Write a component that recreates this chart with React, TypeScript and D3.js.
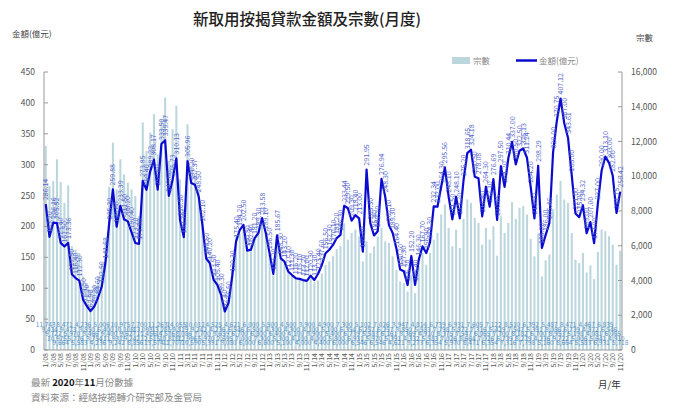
import * as d3 from "d3";

// 金額 (億元), 1/08 - 11/20
const amounts2008 = [236.14, 183.2, 206.16, 205.52, 173.4, 167.5, 173.36, 122.5, 116.4, 112.3, 81.5, 71.2];
const amounts2009 = [62.9, 70.3, 84.6, 102.5, 141.63, 205.3, 259.88, 199.6, 233.39, 211.5, 208.2, 190.4];
const amounts2010 = [173.2, 171.8, 273.85, 259.4, 289.22, 308.17, 259.6, 333.5, 339.47, 249.6, 275.73, 310.13];
const amounts2011 = [210.5, 182.7, 305.96, 270.2, 267.37, 248.5, 202.1, 148.5, 140.2, 113.5, 105.4, 89.3];
const amounts2012 = [62.4, 76.5, 120.3, 175.4, 194.2, 202.5, 160.8, 162.4, 181.2, 189.3, 213.58, 189.1];
const amounts2013 = [156.5, 123.2, 185.67, 148.3, 143.2, 127.1, 121.3, 116.2, 115.1, 113.2, 112.0, 120.3];
const amounts2014 = [113.3, 123.4, 137.6, 156.5, 162.3, 170.1, 181.2, 186.3, 233.44, 229.5, 209.3, 218.4];
const amounts2015 = [213.0, 159.2, 291.95, 205.3, 185.4, 192.2, 276.94, 248.3, 202.1, 189.3, 164.4, 130.2];
const amounts2016 = [127.3, 105.2, 152.2, 105.4, 146.3, 167.7, 156.9, 174.3, 232.34, 232.0, 264.3, 295.56];
const amounts2017 = [248.1, 211.5, 248.1, 213.2, 275.2, 318.65, 324.18, 280.5, 278.08, 216.4, 264.3, 232.1];
const amounts2018 = [276.69, 210.65, 297.5, 264.2, 310.44, 337.0, 300.5, 322.5, 326.13, 311.24, 264.2, 213.0];
const amounts2019 = [298.29, 165.0, 186.0, 205.46, 320.0, 370.75, 407.12, 367.0, 343.61, 283.0, 221.0, 215.0];
const amounts2020 = [234.32, 189.0, 207.0, 173.0, 237.0, 290.0, 313.1, 303.0, 282.0, 221.75, 256.42];

// 宗數
const counts2008 = [11743, 9434, 9722, 10975, 9664, 8471, 9473, 5970, 5776, 5583, 4236, 3850];
const counts2009 = [3466, 3754, 4236, 5006, 6400, 9400, 11937, 9242, 10975, 10108, 9627, 9242];
const counts2010 = [8856, 7700, 13093, 11456, 12515, 13574, 11263, 13285, 14536, 10878, 12707, 14055];
const counts2011 = [9819, 8086, 12996, 10590, 10012, 9242, 7700, 5970, 5391, 4525, 4236, 3659];
const counts2012 = [2695, 3080, 4621, 6546, 6700, 7000, 6000, 6000, 6500, 6800, 7300, 6600];
const counts2013 = [5500, 4300, 6400, 5300, 5100, 4500, 4300, 4100, 4100, 4000, 3900, 4100];
const counts2014 = [3900, 4000, 4400, 4900, 5100, 5400, 5800, 6000, 7300, 6354, 6739, 6931];
const counts2015 = [6546, 5102, 6257, 5583, 5970, 6546, 7026, 6257, 6161, 5391, 4621, 3947];
const counts2016 = [3850, 3369, 4332, 3273, 4814, 5583, 4910, 5583, 6354, 6739, 7798, 8375];
const counts2017 = [7026, 5970, 6931, 5872, 7547, 8664, 8471, 7605, 7316, 6065, 7026, 6354];
const counts2018 = [7122, 5429, 7700, 6739, 7316, 8510, 7547, 8182, 8279, 7798, 6392, 5391];
const counts2019 = [6700, 4236, 5160, 5487, 8086, 8953, 9722, 8664, 8471, 6739, 5198, 5006];
const counts2020 = [5583, 4467, 4872, 4081, 5641, 6931, 6835, 6546, 6065, 4910, 5718];

const leftTicks = [0, 50, 100, 150, 200, 250, 300, 350, 400, 450];
const rightTicks = [0, 2000, 4000, 6000, 8000, 10000, 12000, 14000, 16000];

const amounts = [
  ...amounts2008, ...amounts2009, ...amounts2010, ...amounts2011, ...amounts2012,
  ...amounts2013, ...amounts2014, ...amounts2015, ...amounts2016, ...amounts2017,
  ...amounts2018, ...amounts2019, ...amounts2020,
];
const counts = [
  ...counts2008, ...counts2009, ...counts2010, ...counts2011, ...counts2012,
  ...counts2013, ...counts2014, ...counts2015, ...counts2016, ...counts2017,
  ...counts2018, ...counts2019, ...counts2020,
];
const months = amounts.map((_, i) => `${(i % 12) + 1}/${String(8 + Math.floor(i / 12)).padStart(2, "0")}`);

const FONT = "'Noto Sans CJK TC', 'Noto Sans', sans-serif";
const BAR = "#bcd6de";
const LINE = "#0a0ad0";

export default function App() {
  const width = 675;
  const height = 412;
  const left = 44;
  const right = 622;
  const top = 72;
  const bottom = 350;

  const x = d3.scaleBand<string>().domain(months).range([left, right]).paddingInner(0.45).paddingOuter(0.2);
  const yL = d3.scaleLinear().domain([0, 450]).range([bottom, top]);
  const yR = d3.scaleLinear().domain([0, 16000]).range([bottom, top]);
  const cx = (m: string) => (x(m) ?? 0) + x.bandwidth() / 2;

  const line = d3
    .line<number>()
    .x((_, i) => cx(months[i]))
    .y((d) => yL(d));

  const fmt = d3.format(",");

  return (
    <svg
      width={width}
      height={height}
      style={{ position: "absolute", left: 0, top: 0, background: "#fff" }}
      fontFamily={FONT}
    >
      <text x={307} y={25} textAnchor="middle" fontSize={15.5} fontWeight={500} fill="#222">
        新取用按揭貸款金額及宗數(月度)
      </text>
      <text x={12} y={37} fontSize={8.5} fill="#444">金額(億元)</text>
      <text x={636} y={41} fontSize={8.5} fill="#444">宗數</text>

      {/* legend */}
      <rect x={452} y={57} width={18} height={7} fill={BAR} />
      <text x={473} y={64} fontSize={8.5} fill="#888">宗數</text>
      <line x1={516} x2={537} y1={60.5} y2={60.5} stroke={LINE} strokeWidth={2.5} />
      <text x={539} y={64} fontSize={8.5} fill="#888">金額(億元)</text>

      {/* bars */}
      {counts.map((c, i) => (
        <rect
          key={`b${i}`}
          x={x(months[i])}
          y={yR(c)}
          width={x.bandwidth()}
          height={bottom - yR(c)}
          fill={BAR}
        />
      ))}

      {/* bar value labels (dense overlapping band near the base) */}
      {counts.map((c, i) => (
        <text
          key={`bl${i}`}
          x={cx(months[i])}
          y={327 + (i % 5) * 4.6}
          textAnchor="middle"
          fontSize={6.5}
          fill="#3a80bc"
          opacity={0.8}
        >
          {fmt(c)}
        </text>
      ))}

      {/* axes */}
      <line x1={left} x2={left} y1={top} y2={bottom} stroke="#999" />
      <line x1={right} x2={right} y1={top} y2={bottom} stroke="#999" />
      <line x1={left} x2={right} y1={bottom} y2={bottom} stroke="#999" />
      {leftTicks.map((t) => (
        <g key={`lt${t}`}>
          <line x1={left} x2={left + 4} y1={yL(t)} y2={yL(t)} stroke="#999" />
          <text x={35} y={yL(t) + 3} textAnchor="end" fontSize={8.5} fill="#555">
            {t}
          </text>
        </g>
      ))}
      {rightTicks.map((t) => (
        <g key={`rt${t}`}>
          <line x1={right - 4} x2={right} y1={yR(t)} y2={yR(t)} stroke="#999" />
          <text x={631} y={yR(t) + 3} fontSize={8.5} fill="#555">
            {fmt(t)}
          </text>
        </g>
      ))}
      {months.map((m, i) =>
        i % 2 === 0 ? (
          <text
            key={`xt${i}`}
            transform={`translate(${cx(m) + 2.5},${bottom + 3}) rotate(-90)`}
            textAnchor="end"
            fontSize={7}
            fill="#555"
          >
            {m}
          </text>
        ) : null,
      )}

      {/* line */}
      <path d={line(amounts) ?? ""} fill="none" stroke={LINE} strokeWidth={2.2} strokeLinejoin="round" />

      {/* line labels */}
      {amounts.map((a, i) => (
        <text
          key={`ll${i}`}
          transform={`translate(${cx(months[i]) + 2.5},${yL(a) - 4}) rotate(-90)`}
          fontSize={7}
          fill="#5566cc"
        >
          {a.toFixed(2)}
        </text>
      ))}

      <text x={598} y={388} fontSize={9.5} fill="#333">月/年</text>

      <text x={31} y={386} fontSize={9.5} fill="#888">
        最新 <tspan fill="#111" fontWeight="bold">2020</tspan>年<tspan fill="#111" fontWeight="bold">11</tspan>月份數據
      </text>
      <text x={31} y={401} fontSize={9.5} fill="#888">
        資料來源：經絡按揭轉介研究部及金管局
      </text>
    </svg>
  );
}
